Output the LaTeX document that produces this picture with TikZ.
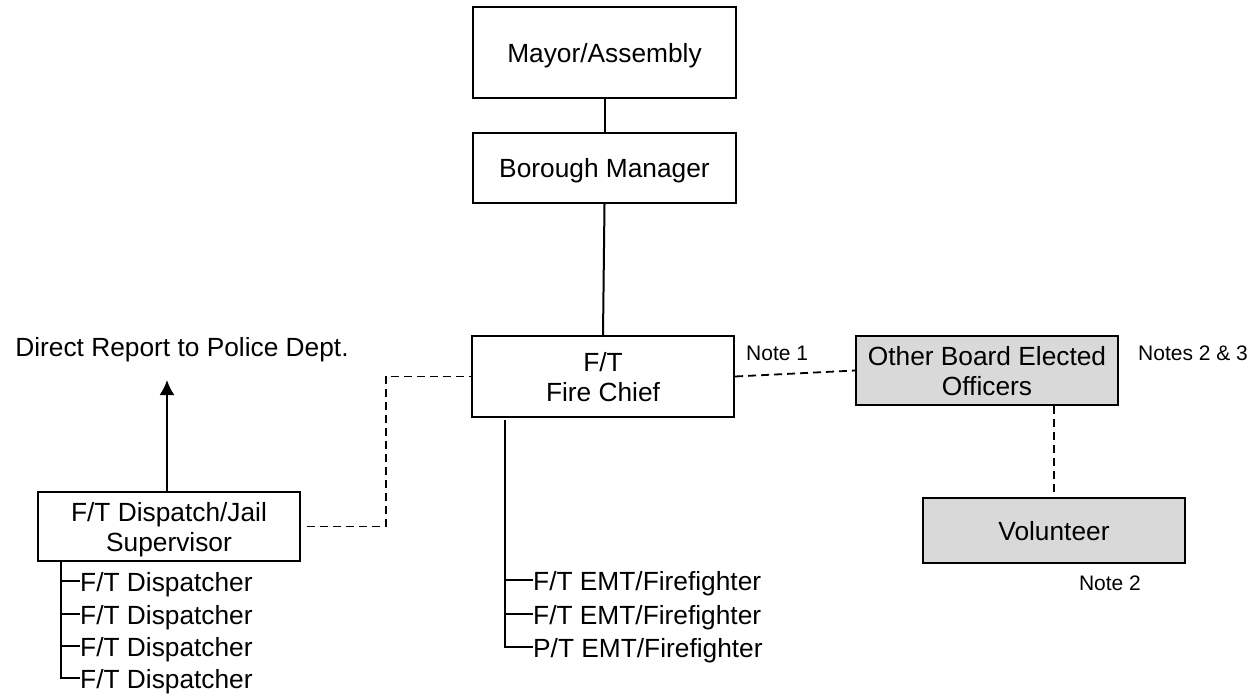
\documentclass[tikz,border=0pt]{standalone}
\usepackage{fontspec}
\setmainfont{Liberation Sans}
\usetikzlibrary{arrows.meta}
\definecolor{boxgray}{RGB}{217,217,217}
\tikzset{
  orgbox/.style={draw=black, line width=2.2pt, rectangle, inner sep=0pt,
    align=center, text depth=0pt, font=\fontsize{26.3}{30}\selectfont},
  shaded/.style={orgbox, fill=boxgray},
  link/.style={line width=2pt},
  dotted link/.style={line width=1.8pt, dash pattern=on 8pt off 5pt},
  item/.style={inner sep=0pt, anchor=base west, font=\fontsize{26.3}{30}\selectfont},
  note/.style={inner sep=0pt, anchor=west, font=\fontsize{21}{25}\selectfont},
}
\begin{document}
\begin{tikzpicture}[x=1pt, y=-1pt]
\useasboundingbox (0,0) rectangle (1254,697);

% Chain of command
\node[orgbox, minimum width=263pt, minimum height=91pt] (mayor) at (604.5,52.5) {Mayor/Assembly};
\node[orgbox, minimum width=263pt, minimum height=70pt] (manager) at (604.5,168) {Borough Manager};
\node[orgbox, minimum width=262pt, minimum height=81pt] (chief) at (603,376.5) {F/T\\Fire Chief};
\node[shaded, minimum width=262pt, minimum height=69pt] (board) at (987,370.5) {Other Board Elected\\Officers};
\node[shaded, minimum width=262pt, minimum height=65pt] (vol) at (1054,530.5) {Volunteer};
\node[orgbox, minimum width=262pt, minimum height=69pt] (disp) at (169,526.5) {F/T Dispatch/Jail\\Supervisor};

% Notes and outside report
\node[note] (n1) at (746,353) {Note 1};
\node[note] (n23) at (1138,353) {Notes 2 \& 3};
\node[note, anchor=center] (n2) at (1110,583) {Note 2};
\node[inner sep=0pt, font=\fontsize{26.3}{30}\selectfont] (report) at (182,350) {Direct Report to Police Dept.};

\draw[link] (mayor.south) -- (manager.north);
\draw[link] (manager.south) -- (chief.north);

% Report arrow
\coordinate (reporttip) at (167,380);
\draw[link, -{Latex[length=15pt, width=15pt]}] (disp.north -| reporttip) -- (reporttip);

% Dotted relationships
\coordinate (bend) at (386,376.5);
\draw[dotted link] ([xshift=6pt]disp.east) -| (bend) -- (chief.west);
\draw[dotted link] (chief.east) -- (board.west);
\draw[dotted link] (vol.north |- board.south) -- (vol.north);

% Fire department staff
\node[item] (emt1) at (533,590) {F/T EMT/Firefighter};
\node[item] (emt2) at (533,624) {F/T EMT/Firefighter};
\node[item] (emt3) at (533,657) {P/T EMT/Firefighter};
\coordinate (emttop) at (505,420);
\foreach \e in {emt1,emt2,emt3}
  \coordinate (\e tick) at ([yshift=10pt]\e.base west);
\draw[link] (emttop) |- (emt3tick);
\foreach \e in {emt1,emt2}
  \draw[link] (emttop |- \e tick) -- (\e tick);

% Dispatch staff
\node[item] (d1) at (80,591) {F/T Dispatcher};
\node[item] (d2) at (80,624) {F/T Dispatcher};
\node[item] (d3) at (80,656) {F/T Dispatcher};
\node[item] (d4) at (80,688) {F/T Dispatcher};
\coordinate (disptop) at (61,561);
\foreach \d in {d1,d2,d3,d4}
  \coordinate (\d tick) at ([yshift=10pt]\d.base west);
\draw[link] (disptop) |- (d4tick);
\foreach \d in {d1,d2,d3}
  \draw[link] (disptop |- \d tick) -- (\d tick);
\end{tikzpicture}
\end{document}
